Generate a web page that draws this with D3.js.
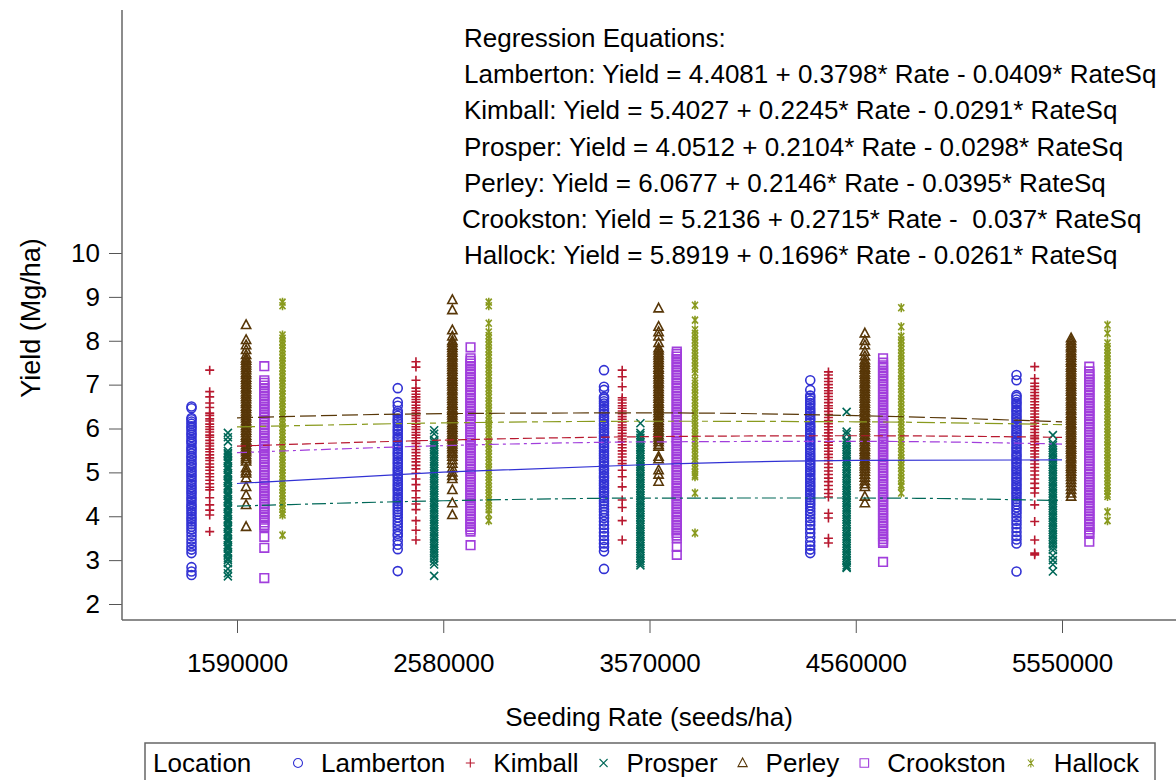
<!DOCTYPE html>
<html>
<head>
<meta charset="utf-8">
<script src="https://cdn.jsdelivr.net/npm/d3@7"></script>
<style>
  body { margin: 0; background: #ffffff; }
  svg text { font-family: "Liberation Sans", Arial, sans-serif; fill: #000; }
</style>
</head>
<body>
<svg id="chart" width="1176" height="780"></svg>
<script>
// ---- data -------------------------------------------------------------
const rates = [1590000, 2580000, 3570000, 4560000, 5550000];
const rateCodes = [1, 2, 3, 4, 5];          // Rate as coded in the regression
const locations = ["Lamberton", "Kimball", "Prosper", "Perley", "Crookston", "Hallock"];
const yTicks = [2, 3, 4, 5, 6, 7, 8, 9, 10];

// quadratic fits: Yield = a + b*Rate - c*RateSq
const intercepts = [4.4081, 5.4027, 4.0512, 6.0677, 5.2136, 5.8919];
const linearCoefs = [0.3798, 0.2245, 0.2104, 0.2146, 0.2715, 0.1696];
const quadCoefs = [0.0409, 0.0291, 0.0298, 0.0395, 0.037, 0.0261];

// observed yields (Mg/ha) for each seeding rate
const lambertonYield = [
  [6.50, 6.46, 6.24, 6.21, 6.16, 6.11, 6.05, 6.01, 5.96, 5.90, 5.86, 5.80, 5.74, 5.70, 5.65, 5.58, 5.53, 5.49, 5.43, 5.37, 5.33, 5.27, 5.21, 5.17, 5.11, 5.05, 5.00, 4.94, 4.89, 4.83, 4.78, 4.72, 4.66, 4.61, 4.55, 4.50, 4.44, 4.39, 4.33, 4.27, 4.22, 4.17, 4.11, 4.05, 3.99, 3.94, 3.88, 3.82, 3.76, 3.70, 3.63, 3.55, 3.47, 3.39, 3.31, 3.24, 3.16, 2.84, 2.74, 2.66],
  [6.92, 6.60, 6.52, 6.40, 6.35, 6.29, 6.22, 6.17, 6.12, 6.05, 5.99, 5.94, 5.88, 5.82, 5.77, 5.71, 5.64, 5.59, 5.53, 5.47, 5.42, 5.36, 5.30, 5.24, 5.19, 5.13, 5.07, 5.02, 4.96, 4.91, 4.85, 4.79, 4.73, 4.68, 4.62, 4.57, 4.51, 4.45, 4.40, 4.34, 4.28, 4.22, 4.16, 4.10, 4.04, 3.97, 3.90, 3.83, 3.76, 3.68, 3.60, 3.55, 3.45, 3.35, 3.25, 2.75],
  [7.33, 6.95, 6.88, 6.72, 6.68, 6.62, 6.57, 6.51, 6.45, 6.40, 6.34, 6.28, 6.23, 6.17, 6.11, 6.06, 6.00, 5.94, 5.89, 5.83, 5.77, 5.72, 5.66, 5.60, 5.55, 5.49, 5.43, 5.38, 5.32, 5.26, 5.21, 5.15, 5.09, 5.04, 4.98, 4.92, 4.87, 4.81, 4.75, 4.70, 4.64, 4.58, 4.53, 4.47, 4.41, 4.35, 4.29, 4.23, 4.16, 4.10, 4.03, 3.96, 3.88, 3.80, 3.72, 3.63, 3.55, 3.46, 3.38, 3.30, 3.20, 2.80],
  [7.10, 6.88, 6.75, 6.70, 6.64, 6.58, 6.53, 6.47, 6.41, 6.36, 6.30, 6.24, 6.19, 6.13, 6.07, 6.02, 5.96, 5.90, 5.85, 5.79, 5.73, 5.68, 5.62, 5.56, 5.51, 5.45, 5.39, 5.34, 5.28, 5.22, 5.17, 5.11, 5.05, 5.00, 4.94, 4.88, 4.83, 4.77, 4.71, 4.66, 4.60, 4.54, 4.49, 4.43, 4.37, 4.31, 4.25, 4.18, 4.11, 4.04, 3.96, 3.88, 3.80, 3.71, 3.62, 3.52, 3.42, 3.33, 3.24, 3.16],
  [7.22, 7.10, 6.76, 6.72, 6.66, 6.60, 6.55, 6.49, 6.43, 6.38, 6.32, 6.26, 6.21, 6.15, 6.09, 6.04, 5.98, 5.92, 5.87, 5.81, 5.75, 5.70, 5.64, 5.58, 5.53, 5.47, 5.41, 5.36, 5.30, 5.24, 5.19, 5.13, 5.07, 5.02, 4.96, 4.90, 4.85, 4.79, 4.73, 4.68, 4.62, 4.56, 4.51, 4.45, 4.39, 4.33, 4.27, 4.20, 4.13, 4.06, 3.98, 3.90, 3.82, 3.73, 3.64, 3.55, 3.47, 3.38, 2.74]
];
const kimballYield = [
  [7.33, 6.84, 6.72, 6.58, 6.48, 6.35, 6.30, 6.22, 6.17, 6.10, 6.04, 5.98, 5.92, 5.85, 5.80, 5.73, 5.66, 5.60, 5.53, 5.47, 5.40, 5.33, 5.27, 5.19, 5.12, 5.05, 4.97, 4.90, 4.82, 4.74, 4.66, 4.60, 4.42, 4.26, 4.14, 4.03, 3.65],
  [7.52, 7.40, 7.10, 6.92, 6.85, 6.78, 6.72, 6.66, 6.60, 6.53, 6.47, 6.41, 6.35, 6.29, 6.23, 6.17, 6.10, 6.04, 5.98, 5.91, 5.85, 5.79, 5.72, 5.66, 5.59, 5.52, 5.45, 5.38, 5.31, 5.24, 5.16, 5.08, 4.98, 4.85, 4.72, 4.58, 4.42, 4.28, 4.15, 3.90, 3.68, 3.46],
  [7.33, 7.18, 6.95, 6.70, 6.65, 6.58, 6.52, 6.46, 6.40, 6.34, 6.27, 6.21, 6.15, 6.08, 6.02, 5.96, 5.89, 5.83, 5.76, 5.70, 5.63, 5.56, 5.49, 5.42, 5.35, 5.27, 5.20, 5.05, 4.90, 4.67, 4.37, 4.20, 3.90, 3.46],
  [7.29, 7.22, 7.14, 7.07, 7.00, 6.93, 6.86, 6.80, 6.73, 6.66, 6.59, 6.52, 6.46, 6.39, 6.32, 6.25, 6.18, 6.11, 6.04, 5.97, 5.90, 5.83, 5.76, 5.69, 5.62, 5.55, 5.48, 5.41, 5.34, 5.27, 5.19, 5.11, 5.03, 4.95, 4.87, 4.79, 4.70, 4.61, 4.52, 4.44, 4.07, 3.96, 3.50, 3.39],
  [7.41, 7.14, 7.03, 6.96, 6.89, 6.82, 6.75, 6.68, 6.61, 6.54, 6.47, 6.40, 6.33, 6.26, 6.19, 6.12, 6.05, 5.98, 5.91, 5.84, 5.77, 5.70, 5.63, 5.56, 5.49, 5.42, 5.35, 5.27, 5.19, 5.11, 5.03, 4.94, 4.85, 4.75, 4.64, 4.53, 4.26, 3.88, 3.46, 3.16, 3.12]
];
const prosperYield = [
  [5.90, 5.80, 5.70, 5.49, 5.44, 5.41, 5.36, 5.29, 5.25, 5.21, 5.14, 5.10, 5.06, 4.99, 4.95, 4.91, 4.84, 4.80, 4.76, 4.69, 4.65, 4.61, 4.54, 4.50, 4.46, 4.39, 4.35, 4.31, 4.24, 4.20, 4.16, 4.09, 4.05, 4.01, 3.94, 3.90, 3.86, 3.79, 3.75, 3.71, 3.64, 3.60, 3.56, 3.49, 3.45, 3.41, 3.34, 3.30, 3.26, 3.19, 3.15, 3.11, 3.04, 3.00, 2.93, 2.80, 2.70, 2.63],
  [5.96, 5.88, 5.74, 5.69, 5.63, 5.58, 5.52, 5.47, 5.41, 5.36, 5.30, 5.25, 5.19, 5.14, 5.08, 5.03, 4.97, 4.92, 4.86, 4.81, 4.75, 4.70, 4.64, 4.59, 4.53, 4.48, 4.42, 4.37, 4.31, 4.26, 4.20, 4.15, 4.09, 4.04, 3.98, 3.93, 3.87, 3.82, 3.76, 3.71, 3.65, 3.60, 3.54, 3.49, 3.43, 3.38, 3.32, 3.27, 3.21, 3.16, 3.10, 3.04, 2.97, 2.90, 2.64],
  [6.12, 5.90, 5.85, 5.79, 5.74, 5.68, 5.63, 5.57, 5.52, 5.46, 5.41, 5.35, 5.30, 5.24, 5.19, 5.13, 5.08, 5.02, 4.97, 4.91, 4.86, 4.80, 4.75, 4.69, 4.64, 4.58, 4.53, 4.47, 4.42, 4.36, 4.31, 4.25, 4.20, 4.14, 4.09, 4.03, 3.98, 3.92, 3.87, 3.81, 3.76, 3.70, 3.65, 3.59, 3.54, 3.48, 3.43, 3.37, 3.32, 3.26, 3.21, 3.15, 3.10, 3.04, 2.98, 2.93, 2.88],
  [6.38, 5.93, 5.87, 5.74, 5.69, 5.63, 5.58, 5.52, 5.47, 5.41, 5.36, 5.30, 5.25, 5.19, 5.14, 5.08, 5.03, 4.97, 4.92, 4.86, 4.81, 4.75, 4.70, 4.64, 4.59, 4.53, 4.48, 4.42, 4.37, 4.31, 4.26, 4.20, 4.15, 4.09, 4.04, 3.98, 3.93, 3.87, 3.82, 3.76, 3.71, 3.65, 3.60, 3.54, 3.49, 3.43, 3.38, 3.32, 3.27, 3.21, 3.16, 3.10, 3.05, 2.99, 2.94, 2.88, 2.84, 2.82],
  [5.85, 5.67, 5.62, 5.56, 5.51, 5.45, 5.40, 5.34, 5.29, 5.23, 5.18, 5.12, 5.07, 5.01, 4.96, 4.90, 4.85, 4.79, 4.74, 4.68, 4.63, 4.57, 4.52, 4.46, 4.41, 4.35, 4.30, 4.24, 4.19, 4.13, 4.08, 4.02, 3.97, 3.91, 3.86, 3.80, 3.75, 3.69, 3.64, 3.58, 3.53, 3.47, 3.42, 3.36, 3.30, 3.23, 3.10, 3.00, 2.90, 2.74]
];
const perleyYield = [
  [8.36, 8.02, 7.90, 7.79, 7.68, 7.60, 7.55, 7.49, 7.44, 7.38, 7.33, 7.27, 7.22, 7.16, 7.11, 7.05, 7.00, 6.94, 6.89, 6.83, 6.78, 6.72, 6.67, 6.61, 6.56, 6.50, 6.45, 6.39, 6.34, 6.28, 6.23, 6.17, 6.12, 6.06, 6.01, 5.95, 5.90, 5.84, 5.79, 5.73, 5.68, 5.62, 5.57, 5.51, 5.46, 5.40, 5.35, 5.30, 5.25, 5.10, 5.03, 4.98, 4.87, 4.67, 4.48, 4.26, 3.76],
  [8.93, 8.70, 8.24, 8.10, 8.00, 7.95, 7.89, 7.84, 7.78, 7.73, 7.67, 7.62, 7.56, 7.51, 7.45, 7.40, 7.34, 7.29, 7.23, 7.18, 7.12, 7.07, 7.01, 6.96, 6.90, 6.85, 6.79, 6.74, 6.68, 6.63, 6.57, 6.52, 6.46, 6.41, 6.35, 6.30, 6.24, 6.19, 6.13, 6.08, 6.02, 5.97, 5.91, 5.86, 5.80, 5.75, 5.69, 5.64, 5.58, 5.53, 5.47, 5.42, 5.36, 5.28, 5.20, 5.10, 5.00, 4.92, 4.85, 4.60, 4.30, 4.03],
  [8.74, 8.32, 8.20, 8.10, 7.95, 7.83, 7.78, 7.72, 7.67, 7.61, 7.56, 7.50, 7.45, 7.39, 7.34, 7.28, 7.23, 7.17, 7.12, 7.06, 7.01, 6.95, 6.90, 6.84, 6.79, 6.73, 6.68, 6.62, 6.57, 6.51, 6.46, 6.40, 6.35, 6.29, 6.24, 6.18, 6.13, 6.07, 6.02, 5.96, 5.91, 5.85, 5.80, 5.74, 5.69, 5.63, 5.59, 5.36, 5.30, 5.05, 4.95, 4.79],
  [8.17, 8.00, 7.90, 7.75, 7.65, 7.56, 7.50, 7.45, 7.39, 7.34, 7.28, 7.23, 7.17, 7.12, 7.06, 7.01, 6.95, 6.90, 6.84, 6.79, 6.73, 6.68, 6.62, 6.57, 6.51, 6.46, 6.40, 6.35, 6.29, 6.24, 6.18, 6.13, 6.07, 6.02, 5.96, 5.91, 5.85, 5.80, 5.74, 5.69, 5.63, 5.58, 5.52, 5.47, 5.41, 5.36, 5.30, 5.25, 5.19, 5.14, 5.08, 5.02, 4.95, 4.88, 4.80, 4.73, 4.67, 4.45, 4.30],
  [8.06, 8.00, 7.94, 7.88, 7.83, 7.77, 7.72, 7.66, 7.61, 7.55, 7.50, 7.44, 7.39, 7.33, 7.28, 7.22, 7.17, 7.11, 7.06, 7.00, 6.95, 6.89, 6.84, 6.78, 6.73, 6.67, 6.62, 6.56, 6.51, 6.45, 6.40, 6.34, 6.29, 6.23, 6.18, 6.12, 6.07, 6.01, 5.96, 5.90, 5.85, 5.79, 5.74, 5.68, 5.63, 5.57, 5.52, 5.46, 5.41, 5.35, 5.30, 5.24, 5.19, 5.13, 5.08, 5.02, 4.96, 4.90, 4.83, 4.76, 4.68, 4.60, 4.52, 4.45]
];
const crookstonYield = [
  [7.42, 7.10, 7.04, 6.98, 6.92, 6.86, 6.80, 6.74, 6.68, 6.62, 6.56, 6.50, 6.44, 6.38, 6.32, 6.26, 6.20, 6.14, 6.08, 6.02, 5.96, 5.90, 5.84, 5.78, 5.72, 5.66, 5.60, 5.54, 5.48, 5.42, 5.36, 5.30, 5.24, 5.18, 5.12, 5.06, 5.00, 4.94, 4.88, 4.82, 4.76, 4.70, 4.64, 4.58, 4.52, 4.46, 4.40, 4.34, 4.28, 4.22, 4.16, 4.10, 4.04, 3.98, 3.92, 3.86, 3.80, 3.76, 3.53, 3.28, 2.59],
  [7.85, 7.60, 7.54, 7.48, 7.42, 7.36, 7.30, 7.24, 7.18, 7.12, 7.06, 7.00, 6.94, 6.88, 6.82, 6.76, 6.70, 6.64, 6.58, 6.52, 6.46, 6.40, 6.34, 6.28, 6.22, 6.16, 6.10, 6.04, 5.98, 5.92, 5.86, 5.80, 5.74, 5.68, 5.62, 5.56, 5.50, 5.44, 5.38, 5.32, 5.26, 5.20, 5.14, 5.08, 5.02, 4.96, 4.90, 4.84, 4.78, 4.72, 4.66, 4.60, 4.54, 4.48, 4.42, 4.36, 4.30, 4.24, 4.18, 4.12, 4.06, 4.00, 3.94, 3.88, 3.82, 3.76, 3.70, 3.65, 3.34],
  [7.75, 7.70, 7.64, 7.58, 7.52, 7.46, 7.40, 7.34, 7.28, 7.22, 7.16, 7.10, 7.04, 6.98, 6.92, 6.86, 6.80, 6.74, 6.68, 6.62, 6.56, 6.50, 6.44, 6.38, 6.32, 6.26, 6.20, 6.14, 6.08, 6.02, 5.96, 5.90, 5.84, 5.78, 5.72, 5.66, 5.60, 5.54, 5.48, 5.42, 5.36, 5.30, 5.24, 5.18, 5.12, 5.06, 5.00, 4.94, 4.88, 4.82, 4.76, 4.70, 4.64, 4.58, 4.52, 4.46, 4.40, 4.34, 4.28, 4.22, 4.16, 4.10, 4.04, 3.98, 3.92, 3.86, 3.80, 3.74, 3.68, 3.62, 3.56, 3.50, 3.30, 3.12],
  [7.60, 7.50, 7.44, 7.38, 7.32, 7.26, 7.20, 7.14, 7.08, 7.02, 6.96, 6.90, 6.84, 6.78, 6.72, 6.66, 6.60, 6.54, 6.48, 6.42, 6.36, 6.30, 6.24, 6.18, 6.12, 6.06, 6.00, 5.94, 5.88, 5.82, 5.76, 5.70, 5.64, 5.58, 5.52, 5.46, 5.40, 5.34, 5.28, 5.22, 5.16, 5.10, 5.04, 4.98, 4.92, 4.86, 4.80, 4.74, 4.68, 4.62, 4.56, 4.50, 4.44, 4.38, 4.32, 4.26, 4.20, 4.14, 4.08, 4.02, 3.96, 3.90, 3.84, 3.78, 3.72, 3.66, 3.60, 3.54, 3.48, 3.42, 3.39, 2.96],
  [7.41, 7.30, 7.24, 7.18, 7.12, 7.06, 7.00, 6.94, 6.88, 6.82, 6.76, 6.70, 6.64, 6.58, 6.52, 6.46, 6.40, 6.34, 6.28, 6.22, 6.16, 6.10, 6.04, 5.98, 5.92, 5.86, 5.80, 5.74, 5.68, 5.62, 5.56, 5.50, 5.44, 5.38, 5.32, 5.26, 5.20, 5.14, 5.08, 5.02, 4.96, 4.90, 4.84, 4.78, 4.72, 4.66, 4.60, 4.54, 4.48, 4.42, 4.36, 4.30, 4.24, 4.18, 4.12, 4.06, 4.00, 3.94, 3.88, 3.82, 3.76, 3.70, 3.64, 3.60, 3.42]
];
const hallockYield = [
  [8.88, 8.80, 8.13, 8.06, 7.98, 7.91, 7.83, 7.76, 7.68, 7.61, 7.53, 7.46, 7.38, 7.31, 7.23, 7.16, 7.08, 7.01, 6.93, 6.86, 6.78, 6.71, 6.63, 6.56, 6.48, 6.41, 6.33, 6.26, 6.18, 6.11, 6.03, 5.96, 5.88, 5.81, 5.73, 5.66, 5.58, 5.51, 5.43, 5.36, 5.28, 5.21, 5.13, 5.06, 4.98, 4.91, 4.83, 4.76, 4.68, 4.61, 4.53, 4.46, 4.38, 4.31, 4.23, 4.16, 4.08, 4.03, 3.57],
  [8.88, 8.80, 8.40, 8.20, 8.12, 8.05, 7.97, 7.90, 7.82, 7.75, 7.67, 7.60, 7.52, 7.45, 7.37, 7.30, 7.22, 7.15, 7.07, 7.00, 6.92, 6.85, 6.77, 6.70, 6.62, 6.55, 6.47, 6.40, 6.32, 6.25, 6.17, 6.10, 6.02, 5.95, 5.87, 5.80, 5.72, 5.65, 5.57, 5.50, 5.42, 5.35, 5.27, 5.20, 5.12, 5.05, 4.97, 4.90, 4.82, 4.75, 4.67, 4.60, 4.52, 4.45, 4.37, 4.30, 4.22, 4.15, 4.05, 3.90],
  [8.81, 8.47, 8.25, 8.17, 8.10, 8.02, 7.95, 7.87, 7.80, 7.72, 7.65, 7.57, 7.50, 7.42, 7.35, 7.27, 7.10, 7.03, 6.95, 6.88, 6.80, 6.73, 6.65, 6.58, 6.50, 6.43, 6.35, 6.28, 6.20, 6.13, 6.05, 5.98, 5.90, 5.83, 5.75, 5.68, 5.60, 5.53, 5.45, 5.38, 5.30, 5.23, 5.15, 5.08, 5.00, 4.94, 4.90, 4.53, 3.62],
  [8.75, 8.32, 8.10, 8.02, 7.95, 7.87, 7.80, 7.72, 7.65, 7.57, 7.50, 7.42, 7.35, 7.27, 7.20, 7.12, 7.05, 6.97, 6.90, 6.82, 6.75, 6.67, 6.60, 6.52, 6.45, 6.37, 6.30, 6.22, 6.15, 6.07, 6.00, 5.92, 5.85, 5.77, 5.70, 5.62, 5.55, 5.47, 5.40, 5.32, 5.25, 5.17, 5.10, 5.02, 4.95, 4.87, 4.80, 4.72, 4.67, 4.53],
  [8.36, 8.17, 7.95, 7.87, 7.80, 7.72, 7.65, 7.57, 7.50, 7.42, 7.35, 7.27, 7.20, 7.12, 7.05, 6.97, 6.90, 6.82, 6.75, 6.67, 6.60, 6.52, 6.45, 6.37, 6.30, 6.22, 6.15, 6.07, 6.00, 5.92, 5.85, 5.77, 5.70, 5.62, 5.55, 5.47, 5.40, 5.32, 5.25, 5.17, 5.10, 5.02, 4.95, 4.87, 4.80, 4.72, 4.65, 4.57, 4.50, 4.45, 4.10, 3.90]
];
const yields = [lambertonYield, kimballYield, prosperYield, perleyYield, crookstonYield, hallockYield];

// ---- styling ----------------------------------------------------------
const colors = ["#3232d4", "#b8182f", "#006858", "#583708", "#a13edc", "#899a1e"];
const dashes = [null, "9,4", "14,4,3,4", "16,5", "10,4,3,4", "18,5,6,5"];
const symbolPaths = {
  Lamberton: "M-4.5,0A4.5,4.5 0 1,0 4.5,0A4.5,4.5 0 1,0 -4.5,0",
  Kimball: "M-4.5,0H4.5M0,-4.5V4.5",
  Prosper: "M-4,-4L4,4M-4,4L4,-4",
  Perley: "M0,-5L4.6,3.6H-4.6Z",
  Crookston: "M-4.3,-4.3H4.3V4.3H-4.3Z",
  Hallock: "M0,-4.5V4.5M-3,-3.5L3,3.5M-3,3.5L3,-3.5"
};

// ---- layout -----------------------------------------------------------
const svg = d3.select("#chart");
const plotLeft = 122, plotRight = 1176, plotTop = 10, plotBottom = 620;

const x = d3.scaleLinear().domain([rates[0], rates[rates.length - 1]]).range([237, 1062]);
const y = d3.scaleLinear().domain([2, 10]).range([604, 253]);
const offset = d3.scalePoint().domain(locations).range([-45.5, 45.5]);
const colorOf = d3.scaleOrdinal().domain(locations).range(colors);

// axes
const yAxis = svg.append("g")
  .attr("transform", `translate(${plotLeft},0)`)
  .call(d3.axisLeft(y).tickValues(yTicks).tickSize(13).tickSizeOuter(0).tickPadding(9));
yAxis.select(".domain").remove();
yAxis.selectAll(".tick line").attr("stroke", "#555");
yAxis.selectAll(".tick text").style("font-size", "26px").attr("fill", "#000");

const xAxis = svg.append("g")
  .attr("transform", `translate(0,${plotBottom})`)
  .call(d3.axisBottom(x).tickValues(rates).tickFormat(d3.format("d")).tickSize(13).tickSizeOuter(0).tickPadding(21));
xAxis.select(".domain").remove();
xAxis.selectAll(".tick line").attr("stroke", "#555");
xAxis.selectAll(".tick text").style("font-size", "26px").attr("fill", "#000");

svg.append("line")
  .attr("x1", plotLeft).attr("x2", plotLeft).attr("y1", plotTop).attr("y2", plotBottom)
  .attr("stroke", "#666").attr("stroke-width", 1.5);
svg.append("line")
  .attr("x1", plotLeft).attr("x2", plotRight).attr("y1", plotBottom).attr("y2", plotBottom)
  .attr("stroke", "#666").attr("stroke-width", 1.5);

// axis titles
svg.append("text")
  .attr("transform", "translate(40,318) rotate(-90)")
  .attr("text-anchor", "middle")
  .style("font-size", "27px")
  .text("Yield (Mg/ha)");
svg.append("text")
  .attr("x", 649).attr("y", 726)
  .attr("text-anchor", "middle")
  .style("font-size", "26px")
  .text("Seeding Rate (seeds/ha)");

// scatter points
const points = [];
locations.forEach((loc, li) => {
  yields[li].forEach((vals, ri) => {
    vals.forEach(v => points.push({ loc, rate: rates[ri], v }));
  });
});
svg.append("g").selectAll("path")
  .data(points)
  .join("path")
  .attr("transform", d => `translate(${x(d.rate) + offset(d.loc)},${y(d.v)})`)
  .attr("d", d => symbolPaths[d.loc])
  .attr("fill", "none")
  .attr("stroke", d => colorOf(d.loc))
  .attr("stroke-width", 1.6);

// fitted quadratic curves
const line = d3.line().x(d => x(d.rate)).y(d => y(d.fit)).curve(d3.curveMonotoneX);
locations.forEach((loc, li) => {
  const fitted = rates.map((r, ri) => ({
    rate: r,
    fit: intercepts[li] + linearCoefs[li] * rateCodes[ri] - quadCoefs[li] * rateCodes[ri] * rateCodes[ri]
  }));
  svg.append("path")
    .datum(fitted)
    .attr("d", line)
    .attr("fill", "none")
    .attr("stroke", colors[li])
    .attr("stroke-width", 1.2)
    .attr("stroke-dasharray", dashes[li]);
});

// regression equation block
const eqLines = ["Regression Equations:"].concat(locations.map((loc, li) =>
  `${loc}: Yield = ${intercepts[li].toFixed(4)} + ${linearCoefs[li].toFixed(4)}* Rate - ${String(quadCoefs[li]).padStart(6, " ")}* RateSq`
));
svg.append("g").selectAll("text")
  .data(eqLines)
  .join("text")
  .attr("x", (d, i) => i === 5 ? 462 : 464)
  .attr("y", (d, i) => 47 + i * 36.2)
  .style("font-size", "26px")
  .style("white-space", "pre")
  .text(d => d);

// legend
const legend = svg.append("g");
legend.append("rect")
  .attr("x", 145).attr("y", 743).attr("width", 1010).attr("height", 60)
  .attr("fill", "none").attr("stroke", "#666").attr("stroke-width", 1.5);
legend.append("text")
  .attr("x", 153).attr("y", 772)
  .style("font-size", "26px")
  .text("Location");
let lx = 298;
locations.forEach((loc, li) => {
  legend.append("path")
    .attr("transform", `translate(${lx},763)`)
    .attr("d", symbolPaths[loc])
    .attr("fill", "none")
    .attr("stroke", colors[li])
    .attr("stroke-width", 1.1);
  const t = legend.append("text")
    .attr("x", lx + 23).attr("y", 772)
    .style("font-size", "26px")
    .text(loc);
  lx = lx + 23 + t.node().getComputedTextLength() + 25;
});
</script>
</body>
</html>
